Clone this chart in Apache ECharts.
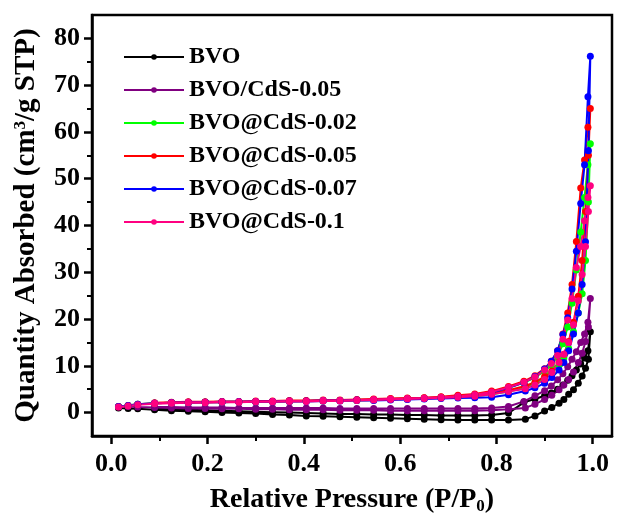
<!DOCTYPE html>
<html>
<head>
<meta charset="utf-8">
<script src="https://cdn.jsdelivr.net/npm/echarts@6/dist/echarts.min.js"></script>
<style>
html,body{margin:0;padding:0;background:#fff;}
#chart{width:622px;height:520px;}
</style>
</head>
<body>
<div id="chart"></div>
<script>
// Relative pressure (P/P0) for adsorption and desorption branches
const pressureAds = [0.015, 0.035, 0.055, 0.09, 0.125, 0.16, 0.195, 0.23, 0.265, 0.30, 0.335, 0.37, 0.405, 0.44, 0.475, 0.51, 0.545, 0.58, 0.615, 0.65, 0.685, 0.72, 0.755, 0.79, 0.825, 0.86, 0.88, 0.90, 0.915, 0.93, 0.94, 0.95, 0.96, 0.97, 0.978, 0.985, 0.991, 0.995];
const pressureDes = [0.99, 0.983, 0.975, 0.966, 0.957, 0.948, 0.938, 0.927, 0.914, 0.9, 0.88, 0.857, 0.825, 0.79, 0.755, 0.72, 0.685, 0.65, 0.615, 0.58, 0.545, 0.51, 0.475, 0.44, 0.405, 0.37, 0.335, 0.30, 0.265, 0.23, 0.195, 0.16, 0.125, 0.09];

const seriesNames = ['BVO', 'BVO/CdS-0.05', 'BVO@CdS-0.02', 'BVO@CdS-0.05', 'BVO@CdS-0.07', 'BVO@CdS-0.1'];
const seriesColors = ['#000000', '#800080', '#00ff00', '#ff0000', '#0000ff', '#ff0080'];

const bvoAds = [1.0, 0.9, 0.8, 0.6, 0.4, 0.3, 0.2, 0.0, -0.1, -0.2, -0.4, -0.5, -0.7, -0.8, -0.9, -1.0, -1.1, -1.2, -1.3, -1.4, -1.5, -1.6, -1.6, -1.6, -1.6, -1.4, -0.7, 0.35, 1.1, 2.0, 2.8, 3.9, 4.9, 6.3, 7.8, 9.5, 11.4, 17.3];
const bvoDes = [13.2, 11.7, 10.4, 9.1, 7.9, 6.9, 5.9, 5.0, 4.2, 3.6, 2.9, 2.2, -0.1, -0.5, -0.6, -0.6, -0.6, -0.5, -0.5, -0.4, -0.4, -0.3, -0.3, -0.2, -0.1, 0.0, 0.1, 0.2, 0.3, 0.4, 0.5, 0.6, 0.7, 0.8];

const bvoCdsAds = [1.2, 1.3, 1.2, 1.1, 1.0, 0.9, 0.9, 0.8, 0.8, 0.7, 0.7, 0.6, 0.6, 0.6, 0.5, 0.5, 0.5, 0.4, 0.4, 0.4, 0.4, 0.4, 0.4, 0.5, 0.7, 1.0, 1.8, 2.8, 3.7, 4.9, 5.9, 7.1, 8.7, 10.7, 12.7, 15.2, 18.3, 24.4];
const bvoCdsDes = [19.3, 16.8, 15.0, 13.0, 11.4, 9.8, 8.3, 7.0, 5.7, 4.7, 3.6, 2.4, 1.3, 1.0, 0.9, 0.9, 0.9, 0.9, 0.9, 0.9, 0.9, 0.9, 0.9, 1.0, 1.0, 1.0, 1.0, 1.0, 1.0, 1.1, 1.1, 1.1, 1.2, 1.2];

const cds002Ads = [1.3, 1.5, 1.8, 2.0, 2.1, 2.1, 2.2, 2.2, 2.3, 2.3, 2.4, 2.4, 2.5, 2.5, 2.6, 2.6, 2.7, 2.8, 2.9, 3.0, 3.1, 3.3, 3.5, 3.9, 4.5, 5.3, 6.2, 7.3, 8.5, 10.2, 11.7, 13.7, 17.3, 21.3, 25.4, 32.5, 45, 57.5];
const cds002Des = [53, 46, 38.6, 30.5, 23.4, 18.3, 14.7, 12, 10.2, 8.9, 7.5, 6.4, 5.3, 4.4, 3.8, 3.5, 3.3, 3.1, 3.0, 2.9, 2.8, 2.7, 2.6, 2.6, 2.5, 2.5, 2.4, 2.4, 2.3, 2.3, 2.2, 2.2, 2.1, 2.0];

const cds005Ads = [1.3, 1.5, 1.8, 2.0, 2.1, 2.2, 2.2, 2.3, 2.3, 2.4, 2.4, 2.5, 2.5, 2.6, 2.6, 2.7, 2.8, 2.9, 3.0, 3.1, 3.3, 3.5, 3.8, 4.2, 4.8, 5.7, 6.5, 7.7, 8.9, 10.8, 12.5, 15.2, 19.3, 24.9, 32.5, 43, 55, 65];
const cds005Des = [61, 54, 48, 36.6, 27.4, 21.3, 16.8, 13.2, 11, 9.4, 7.9, 6.7, 5.6, 4.6, 4.0, 3.7, 3.4, 3.2, 3.1, 3.0, 2.9, 2.8, 2.7, 2.7, 2.6, 2.6, 2.5, 2.5, 2.4, 2.4, 2.3, 2.3, 2.2, 2.1];

const cds007Ads = [1.3, 1.5, 1.8, 2.0, 2.1, 2.1, 2.2, 2.2, 2.3, 2.3, 2.3, 2.4, 2.4, 2.5, 2.5, 2.6, 2.6, 2.7, 2.8, 2.9, 3.0, 3.1, 3.2, 3.3, 3.8, 4.6, 5.3, 6.3, 7.5, 9.1, 10.7, 13.2, 16.8, 21.3, 27.4, 36.5, 56, 76.2];
const cds007Des = [67.5, 53, 44.7, 34.5, 26.4, 20.3, 16.7, 13.2, 11, 9.3, 7.7, 6.4, 5.3, 4.3, 3.7, 3.4, 3.2, 3.0, 2.9, 2.8, 2.7, 2.7, 2.6, 2.6, 2.5, 2.5, 2.4, 2.4, 2.3, 2.3, 2.2, 2.2, 2.1, 2.0];

const cds01Ads = [1.2, 1.4, 1.7, 1.9, 2.0, 2.1, 2.1, 2.2, 2.2, 2.3, 2.3, 2.4, 2.4, 2.5, 2.5, 2.6, 2.7, 2.8, 2.9, 3.0, 3.1, 3.3, 3.5, 3.9, 4.5, 5.1, 5.9, 7.1, 8.6, 10.7, 12.5, 15, 18.8, 23.9, 29.5, 35.5, 43, 48.5];
const cds01Des = [46, 41, 35.5, 31, 24.4, 19.8, 15.7, 12.2, 10.5, 9.1, 7.6, 6.5, 5.4, 4.4, 3.8, 3.5, 3.3, 3.1, 3.0, 2.9, 2.8, 2.7, 2.6, 2.6, 2.5, 2.5, 2.4, 2.4, 2.3, 2.3, 2.2, 2.2, 2.1, 2.0];

const xTickValues = [0, 0.2, 0.4, 0.6, 0.8, 1.0];
const xMinorValues = [0.1, 0.3, 0.5, 0.7, 0.9];
const yTickValues = [0, 10, 20, 30, 40, 50, 60, 70, 80];
const yMinorValues = [5, 15, 25, 35, 45, 55, 65, 75];

const adsSets = [bvoAds, bvoCdsAds, cds002Ads, cds005Ads, cds007Ads, cds01Ads];
const desSets = [bvoDes, bvoCdsDes, cds002Des, cds005Des, cds007Des, cds01Des];

const FONT = '"Liberation Serif", "Times New Roman", serif';

const series = seriesNames.map((name, k) => ({
  name: name,
  type: 'line',
  xAxisIndex: 0,
  yAxisIndex: 0,
  symbol: 'circle',
  symbolSize: 7,
  showSymbol: true,
  lineStyle: { width: 2, color: seriesColors[k] },
  itemStyle: { color: seriesColors[k] },
  emphasis: { disabled: true },
  animation: false,
  data: adsSets[k].map((v, i) => [pressureAds[i], v])
        .concat(desSets[k].map((v, i) => [pressureDes[i], v]))
}));

const XMIN = -0.04, XMAX = 1.04, YMIN = -5, YMAX = 85;

const chart = echarts.init(document.getElementById('chart'), null, { renderer: 'canvas' });
chart.setOption({
  backgroundColor: '#ffffff',
  animation: false,
  color: seriesColors,
  grid: { left: 92, right: 10, top: 15, bottom: 77, show: true, borderColor: '#000', borderWidth: 2.5, backgroundColor: 'transparent' },
  legend: {
    orient: 'vertical',
    left: 123,
    top: 45,
    padding: 0,
    itemWidth: 60,
    itemHeight: 7,
    itemGap: 9,
    data: seriesNames,
    textStyle: { fontFamily: FONT, fontWeight: 'bold', fontSize: 24, color: '#000' }
  },
  xAxis: [{
    type: 'value', min: XMIN, max: XMAX,
    name: 'Relative Pressure (P/P{sub|0})',
    nameLocation: 'middle', nameGap: 48,
    nameTextStyle: { fontFamily: FONT, fontWeight: 'bold', fontSize: 28, color: '#000',
      rich: { sub: { fontFamily: FONT, fontWeight: 'bold', fontSize: 17, color: '#000', verticalAlign: 'bottom', padding: [14, 0, 0, 0] } } },
    axisLine: { show: true, onZero: false, lineStyle: { color: '#000', width: 2.5 } },
    axisTick: { show: true, inside: false, length: 8, customValues: xTickValues, lineStyle: { color: '#000', width: 2.5 } },
    axisLabel: { customValues: xTickValues, margin: 15, fontFamily: FONT, fontWeight: 'bold', fontSize: 26, color: '#000',
      formatter: v => v.toFixed(1) },
    splitLine: { show: false }
  }, {
    type: 'value', min: XMIN, max: XMAX, position: 'bottom',
    axisLine: { show: false, onZero: false },
    axisTick: { show: true, inside: false, length: 5, customValues: xMinorValues, lineStyle: { color: '#000', width: 2 } },
    axisLabel: { show: false },
    splitLine: { show: false }
  }],
  yAxis: [{
    type: 'value', min: YMIN, max: YMAX,
    name: 'Quantity Absorbed (cm{sup|3}/g STP)',
    nameLocation: 'middle', nameGap: 51, nameRotate: 90,
    nameTextStyle: { fontFamily: FONT, fontWeight: 'bold', fontSize: 29, color: '#000',
      rich: { sup: { fontFamily: FONT, fontWeight: 'bold', fontSize: 17, color: '#000', verticalAlign: 'top', padding: [0, 0, 12, 0] } } },
    axisLine: { show: true, onZero: false, lineStyle: { color: '#000', width: 2.5 } },
    axisTick: { show: true, inside: false, length: 8, customValues: yTickValues, lineStyle: { color: '#000', width: 2.5 } },
    axisLabel: { customValues: yTickValues, margin: 12, fontFamily: FONT, fontWeight: 'bold', fontSize: 26, color: '#000' },
    splitLine: { show: false }
  }, {
    type: 'value', min: YMIN, max: YMAX, position: 'left',
    axisLine: { show: false, onZero: false },
    axisTick: { show: true, inside: false, length: 5, customValues: yMinorValues, lineStyle: { color: '#000', width: 2 } },
    axisLabel: { show: false },
    splitLine: { show: false }
  }],
  series: series
});
</script>
</body>
</html>
